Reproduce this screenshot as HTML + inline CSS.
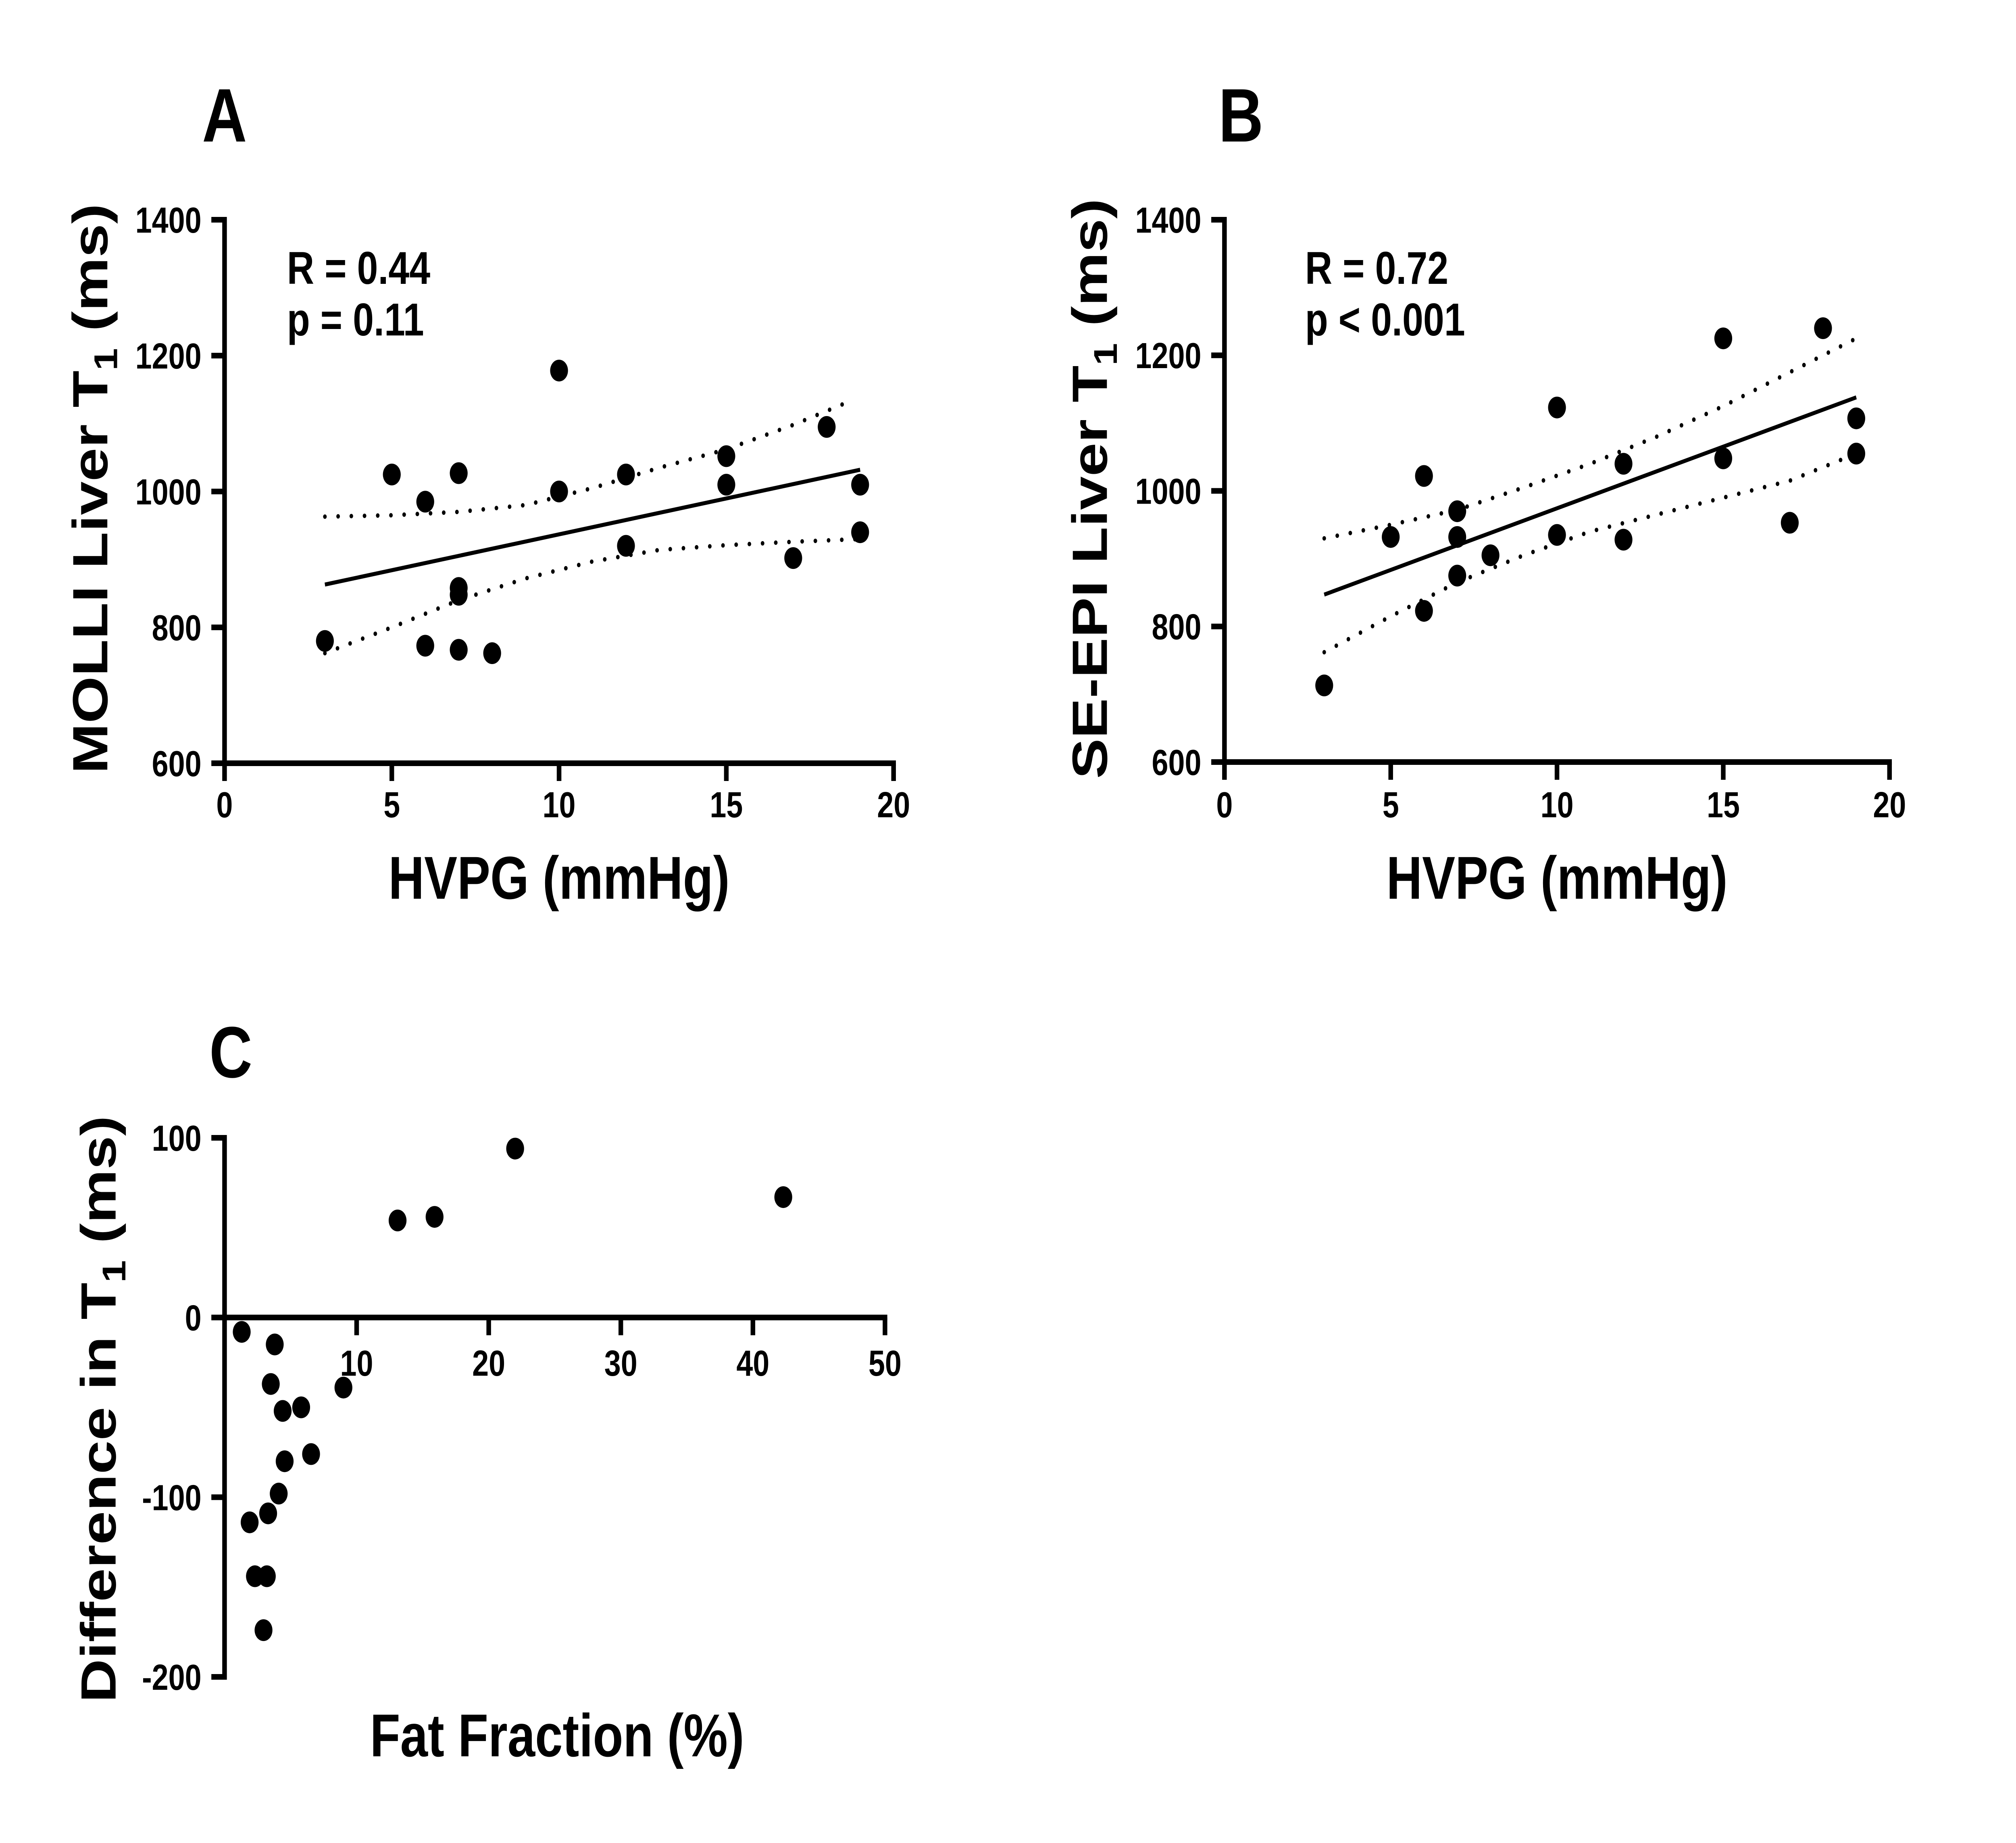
<!DOCTYPE html>
<html><head><meta charset="utf-8"><style>
html,body{margin:0;padding:0;background:#fff;overflow:hidden;width:100%;height:100%}
svg{display:block;position:absolute;left:0;top:0;width:100vw;height:100vh}
text{font-family:"Liberation Sans",Arial,sans-serif;font-weight:bold;fill:#000}
</style></head><body>
<svg id="fig" xmlns="http://www.w3.org/2000/svg" viewBox="0 0 6105 4571" preserveAspectRatio="none">
<rect width="6105" height="4571" fill="#fff"/>
</svg>
<script>
// Panel A data
const aX = [3,5,6,6,7,7,7,7,8,10,10,12,12,15,15,17,18,19,19];
const aY = [780,1025,985,773,1027,858,848,767,762,1178,1000,1025,920,1052,1010,902,1095,1010,940];
const aFitX = [3,19];
const aFitY = [863,1032];
const aBandX = [3,5,7,9,11,13,15,17,18.8];
const aUpper = [963,965,970,980,1005,1035,1062,1098,1135];
const aLowerX = [3,5,7,9,11,13,15,17,19];
const aLower = [762,800,840,872,897,914,921,926,930];
// Panel B data
const bX = [3,5,6,6,7,7,7,8,10,10,12,12,15,15,17,18,19,19];
const bY = [713,932,1022,823,970,932,875,905,1123,935,1040,928,1225,1048,953,1240,1107,1055];
const bFitX = [3,19];
const bFitY = [847,1138];
const bBandX = [3,5,7,9,11,13,15,17,19];
const bUpper = [930,950,972,1005,1040,1080,1125,1175,1225];
const bLower = [762,815,865,905,940,965,990,1015,1055];
// Panel C data
const cX = [1.3,3.8,3.5,4.4,5.8,4.55,6.55,4.1,3.3,1.9,2.3,3.2,2.95,9.0,13.1,15.9,22,42.3];
const cY = [-8,-15,-37,-52,-50,-80,-76,-98,-109,-114,-144,-144,-174,-39,54,56,94,67];
// ticks
const tTicksX = [0,5,10,15,20];
const tTicksY = [600,800,1000,1200,1400];
const cTicksX = [10,20,30,40,50];
const cTicksY = [-200,-100,0,100];

const NS = "http://www.w3.org/2000/svg";
const svg = document.getElementById('fig');
function el(tag, attrs, parent){const e=document.createElementNS(NS,tag);for(const k in attrs)e.setAttribute(k,attrs[k]);(parent||svg).appendChild(e);return e;}
function txt(parent, x, y, s, size, anchor){const t=el('text',{x:x,y:y,'font-size':size,'text-anchor':anchor||'start'},parent);t.textContent=s;return t;}

function panel(opts){
  const g = el('g',{});
  
  
  const sx = v => opts.x0 + (v-opts.xmin)/(opts.xmax-opts.xmin)*(opts.x1-opts.x0);
  const sy = v => opts.y0 + (v-opts.ymin)/(opts.ymax-opts.ymin)*(opts.y1-opts.y0);
  const yAxis = el('line',{x1:opts.x0,y1:sy(opts.ymax)-7,x2:opts.x0,y2:sy(opts.ymin)+7,stroke:'#000','stroke-width':14},g);
  
  
  const ax = sy(opts.xAxisAt);
  const xAxis = el('line',{x1:opts.x0-7,y1:ax,x2:sx(opts.xmax)+7,y2:ax,stroke:'#000','stroke-width':14},g);
  
  
  opts.yt.forEach(v=>{
    el('line',{x1:opts.x0-40,y1:sy(v),x2:opts.x0,y2:sy(v),stroke:'#000','stroke-width':14},g);
    const t=txt(g,opts.x0-70,sy(v)+32,String(v),90,'end');
    
    
  });
  opts.xt.forEach(v=>{
    el('line',{x1:sx(v),y1:ax,x2:sx(v),y2:ax+44,stroke:'#000','stroke-width':14},g);
    const t=txt(g,sx(v),opts.xLabelY,String(v),90,'middle');
    
    
  });
  if(opts.fitX){
    const fl = el('line',{x1:sx(opts.fitX[0]),y1:sy(opts.fitY[0]),x2:sx(opts.fitX[1]),y2:sy(opts.fitY[1]),stroke:'#000','stroke-width':10},g);
    
    
    [[opts.uX,opts.up,'upper-confidence-band'],[opts.lX,opts.lo,'lower-confidence-band']].forEach(([xs,ys,nm])=>{
      const d = xs.map((x,i)=>(i?'L':'M')+sx(x)+','+sy(ys[i])).join(' ');
      const p = el('path',{d:d,fill:'none',stroke:'#000','stroke-width':11,'stroke-linecap':'round','stroke-dasharray':'0 40'},g);
      
      
    });
  }
  opts.px.forEach((x,i)=>{
    const c = el('circle',{cx:sx(x),cy:sy(opts.py[i]),r:27,fill:'#000'},g);
    
    
  });
  return g;
}

panel({name:'panel-a',x0:680,x1:2706,xmin:0,xmax:20,y0:1893,y1:545,ymin:600,ymax:1400,xAxisAt:600,
  yt:tTicksY,xt:tTicksX,xLabelY:2027,px:aX,py:aY,fitX:aFitX,fitY:aFitY,uX:aBandX,up:aUpper,lX:aLowerX,lo:aLower});
panel({name:'panel-b',x0:3708,x1:5722,xmin:0,xmax:20,y0:1890,y1:545,ymin:600,ymax:1400,xAxisAt:600,
  yt:tTicksY,xt:tTicksX,xLabelY:2027,px:bX,py:bY,fitX:bFitX,fitY:bFitY,uX:bBandX,up:bUpper,lX:bBandX,lo:bLower});
panel({name:'panel-c',x0:680,x1:2680,xmin:0,xmax:50,y0:4159,y1:2822,ymin:-200,ymax:100,xAxisAt:0,
  yt:cTicksY,xt:cTicksX,xLabelY:3412,px:cX,py:cY});

function label(name,x,y,s,size,anchor,rot){
  const t=txt(svg,x,y,s,size,anchor);
  if(rot) t.setAttribute('transform','rotate(-90 '+x+' '+y+')');
  
  
  return t;
}
label('panel-label-a',612,351,'A',188);
label('panel-label-b',3690,351,'B',188);
label('panel-label-c',634,2672,'C',180);
label('r-value-a',869,704,'R = 0.44',114);
label('p-value-a',869,832,'p = 0.11',114);
label('r-value-b',3952,704,'R = 0.72',114);
label('p-value-b',3952,832,'p < 0.001',114);
label('x-axis-title-a',1693,2229,'HVPG (mmHg)',150,'middle');
label('x-axis-title-b',4715,2229,'HVPG (mmHg)',150,'middle');
label('x-axis-title-c',1687,4356,'Fat Fraction (%)',150,'middle');
const ya=label('y-axis-title-a',325,1212,'',150,'middle',true);
ya.innerHTML='MOLLI Liver T<tspan font-size="100" dy="30">1</tspan><tspan dy="-30"> (ms)</tspan>';
const yb=label('y-axis-title-b',3352,1212,'',150,'middle',true);
yb.innerHTML='SE-EPI Liver T<tspan font-size="100" dy="30">1</tspan><tspan dy="-30"> (ms)</tspan>';
const yc=label('y-axis-title-c',350,3495,'',150,'middle',true);
yc.innerHTML='Difference in T<tspan font-size="100" dy="30">1</tspan><tspan dy="-30"> (ms)</tspan>';
</script>
</body></html>
